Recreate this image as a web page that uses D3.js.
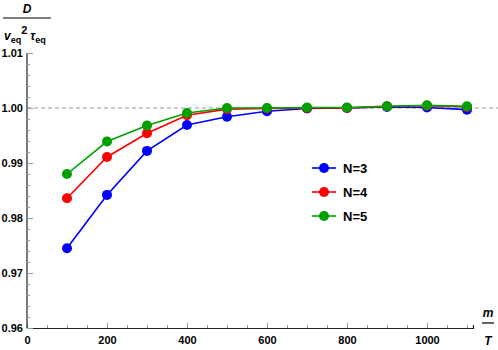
<!DOCTYPE html>
<html>
<head>
<meta charset="utf-8">
<script src="https://cdn.jsdelivr.net/npm/d3@7"></script>
<style>
  body { margin: 0; background: #fff; }
  text { font-family: 'Liberation Sans', Arial, sans-serif; }
</style>
</head>
<body>
<div id="chart"></div>
<script>
const mValues = [100, 200, 300, 400, 500, 600, 700, 800, 900, 1000, 1100]
const seriesN3 = [0.9745, 0.9842, 0.9922, 0.9969, 0.9984, 0.9994, 0.9999, 1.0000, 1.0002, 1.0001, 0.9997]
const seriesN4 = [0.9836, 0.9911, 0.9954, 0.9987, 0.9998, 0.9999, 1.0000, 1.0000, 1.0003, 1.0004, 1.0002]
const seriesN5 = [0.9880, 0.9939, 0.9968, 0.9991, 1.0000, 1.0000, 1.0001, 1.0001, 1.0003, 1.0005, 1.0003]
const seriesNames = ['N=3', 'N=4', 'N=5']
const seriesColors = ['#0000ff', '#ff0000', '#00a000']
const xTicks = [0, 200, 400, 600, 800, 1000]
const yTicks = [0.96, 0.97, 0.98, 0.99, 1.00, 1.01]

const width = 498
const height = 350

const svg = d3.select('#chart').append('svg')
    .attr('width', width)
    .attr('height', height)

const x = d3.scaleLinear().domain([0, 1115]).range([27, 473])
const y = d3.scaleLinear().domain([0.96, 1.01]).range([328, 53])

// reference line at 1
svg.append('line')
    .attr('x1', x(0))
    .attr('x2', 498)
    .attr('y1', y(1))
    .attr('y2', y(1))
    .attr('stroke', '#999')
    .attr('stroke-width', 1)
    .attr('stroke-dasharray', '4,3')

// x axis (ticks pointing up)
const xMinor = d3.range(0, 1101, 50)
svg.append('g')
    .attr('transform', `translate(0,${y(0.96)})`)
    .call(d3.axisBottom(x).tickValues(xMinor).tickSize(-3).tickFormat(''))
    .call(g => g.selectAll('line').attr('stroke', '#999'))
    .call(g => g.select('.domain').attr('stroke', '#222').attr('stroke-width', 1.2))
svg.append('g')
    .attr('transform', `translate(0,${y(0.96)})`)
    .call(d3.axisBottom(x).tickValues(xTicks).tickSize(-5).tickPadding(10).tickFormat(d3.format('d')))
    .call(g => g.select('.domain').remove())
    .call(g => g.selectAll('line').attr('stroke', '#999'))
    .call(g => g.selectAll('text')
        .attr('font-size', 11)
        .attr('font-weight', 'bold')
        .attr('fill', '#000')
        .attr('y', 8))

// y axis (ticks pointing right)
const yMinor = d3.range(0, 26).map(i => 0.96 + i * 0.002)
svg.append('g')
    .attr('transform', `translate(${x(0)},0)`)
    .call(d3.axisLeft(y).tickValues(yMinor).tickSize(-3).tickFormat(''))
    .call(g => g.selectAll('line').attr('stroke', '#999'))
    .call(g => g.select('.domain').attr('d', `M0,${y(1.01)}V${y(0.96)}`).attr('stroke', '#222').attr('stroke-width', 1.2))
svg.append('g')
    .attr('transform', `translate(${x(0)},0)`)
    .call(d3.axisLeft(y).tickValues(yTicks).tickSize(-6).tickPadding(4).tickFormat(d3.format('.2f')))
    .call(g => g.select('.domain').remove())
    .call(g => g.selectAll('line').attr('stroke', '#999'))
    .call(g => g.selectAll('text')
        .attr('font-size', 11)
        .attr('font-weight', 'bold')
        .attr('fill', '#000')
        .attr('x', -4))

// series
const allSeries = [seriesN3, seriesN4, seriesN5]
const line = d3.line().x((d, i) => x(mValues[i])).y(d => y(d))

allSeries.forEach((vals, k) => {
    svg.append('path')
        .datum(vals)
        .attr('d', line)
        .attr('fill', 'none')
        .attr('stroke', seriesColors[k])
        .attr('stroke-width', 1.6)
    svg.selectAll('.pt' + k).data(vals).enter()
        .append('circle')
        .attr('cx', (d, i) => x(mValues[i]))
        .attr('cy', d => y(d))
        .attr('r', 5)
        .attr('fill', seriesColors[k])
})

// legend
const legend = svg.append('g').attr('transform', 'translate(312,168)')
seriesNames.forEach((name, k) => {
    const g = legend.append('g').attr('transform', `translate(0,${k * 24})`)
    g.append('line')
        .attr('x1', 0).attr('x2', 24)
        .attr('stroke', seriesColors[k])
        .attr('stroke-width', 1.6)
    g.append('circle')
        .attr('cx', 12).attr('r', 5)
        .attr('fill', seriesColors[k])
    g.append('text')
        .attr('x', 31).attr('y', 5)
        .attr('font-size', 13)
        .attr('font-weight', 'bold')
        .text(name)
})

// y label: D / (v_eq^2 tau_eq)
const yl = svg.append('g')
yl.append('text')
    .attr('x', 27).attr('y', 13)
    .attr('text-anchor', 'middle')
    .attr('font-size', 12)
    .attr('font-weight', 'bold')
    .attr('font-style', 'italic')
    .text('D')
yl.append('line')
    .attr('x1', 3).attr('x2', 51)
    .attr('y1', 18).attr('y2', 18)
    .attr('stroke', '#000').attr('stroke-width', 1.2)
const den = yl.append('text')
    .attr('x', 4).attr('y', 40)
    .attr('font-size', 12)
    .attr('font-weight', 'bold')
den.append('tspan').attr('font-style', 'italic').text('v')
den.append('tspan').attr('font-size', 9).attr('dy', 3).text('eq')
den.append('tspan').attr('font-size', 11).attr('dy', -9).text('2')
den.append('tspan').attr('dy', 6).attr('dx', 3).attr('font-style', 'italic').text('τ')
den.append('tspan').attr('font-size', 9).attr('dy', 3).text('eq')

// x label: m / T
const xl = svg.append('g')
xl.append('text')
    .attr('x', 488).attr('y', 317)
    .attr('text-anchor', 'middle')
    .attr('font-size', 12)
    .attr('font-weight', 'bold')
    .attr('font-style', 'italic')
    .text('m')
xl.append('line')
    .attr('x1', 482).attr('x2', 494)
    .attr('y1', 323).attr('y2', 323)
    .attr('stroke', '#000').attr('stroke-width', 1.2)
xl.append('text')
    .attr('x', 488).attr('y', 345)
    .attr('text-anchor', 'middle')
    .attr('font-size', 12)
    .attr('font-weight', 'bold')
    .attr('font-style', 'italic')
    .text('T')
</script>
</body>
</html>
